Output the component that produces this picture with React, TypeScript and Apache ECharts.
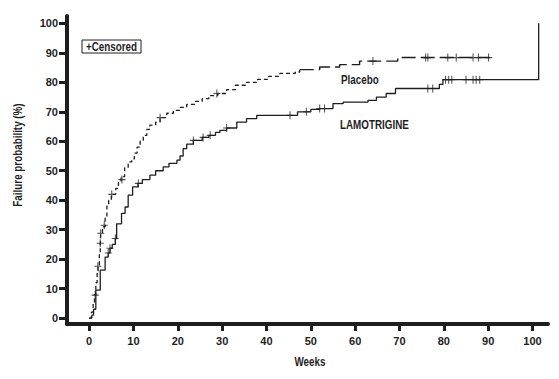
import React, { useEffect, useRef } from "react";
import * as echarts from "echarts";

const tickValues = [0, 10, 20, 30, 40, 50, 60, 70, 80, 90, 100];

const placeboWeeks = [0, 0.5, 0.9, 1.2, 1.5, 1.8, 2.0, 2.3, 2.5, 2.6, 3.0, 3.6, 4.0, 4.4, 5.0, 6.0, 6.6, 7.2, 8.0, 8.8, 9.6, 10.2, 10.8, 11.5, 12.2, 13.0, 13.7, 15.0, 16.0, 17.5, 19.0, 20.5, 22.0, 24.0, 25.5, 27.0, 29.0, 31.0, 33.0, 35.5, 38.0, 40.5, 43.0, 46.5, 47.5, 52.0, 56.5, 61.0, 69.6, 90.3];
const placeboProb = [0, 2, 5, 8, 12, 16, 18, 22, 25, 29, 31, 34, 38, 40, 42, 44, 46, 48, 51, 53, 54, 56, 58, 60, 62, 64, 65.5, 66.5, 68, 69.5, 70.5, 71.5, 72.5, 73.5, 74.5, 75.5, 76.2, 77.5, 79, 80, 81, 82, 83, 83.5, 84.3, 85.2, 86, 87.2, 88.4, 88.4];
const placeboDashChangeWeek = 47.5;

const placeboCensorWeeks = [1.35, 1.96, 2.5, 2.6, 3.4, 5.1, 7.4, 16, 28.8, 64, 75.9, 76.4, 80.9, 82.8, 86.6, 87.8, 90.1];
const placeboCensorProb = [7.8, 17.6, 25.4, 28.8, 31.5, 42, 47, 68, 76.2, 87.2, 88.4, 88.4, 88.4, 88.4, 88.4, 88.4, 88.4];

const lamoWeeks = [0, 0.6, 1.0, 1.5, 2.5, 3.6, 4.3, 4.7, 5.2, 5.9, 6.2, 7.3, 8.1, 8.8, 9.8, 11.0, 12.0, 13.7, 15.0, 16.7, 18.0, 19.8, 20.5, 21.2, 22.0, 23.5, 25.5, 27.0, 28.5, 29.5, 31.0, 33.3, 35.5, 37.8, 47.0, 50.0, 52.0, 55.0, 57.3, 62.9, 64.8, 67.0, 69.1, 79.0, 79.8, 101.4];
const lamoProb = [0, 1, 3, 9.5, 16.3, 20.7, 22.1, 23.7, 25, 27, 32, 35.5, 37.7, 41.7, 44.5, 45.7, 47, 48.5, 50, 51.3, 52.5, 53.6, 55, 57.5, 59, 60.3, 61.3, 62, 63, 63.7, 64.5, 66.5, 67.7, 68.8, 70, 70.8, 71.1, 72.8, 73.3, 73.9, 75, 76.2, 77.9, 79.3, 80.9, 100];

const lamoCensorWeeks = [4.3, 4.7, 5.9, 11.1, 23.5, 25.7, 27.3, 31, 45.3, 49, 52, 53.1, 76.4, 77.5, 80.4, 81.1, 81.8, 85, 86.6, 87.3, 88.1];
const lamoCensorProb = [22.1, 23.7, 27, 45.7, 60.3, 61.3, 62, 64.5, 68.8, 70, 71.1, 71.1, 77.9, 77.9, 80.9, 80.9, 80.9, 80.9, 80.9, 80.9, 80.9];

const FONT = '"Liberation Sans", Arial, sans-serif';
const INK = "#1e1e1e";
const PLUS = "path://M3,0h1v3h3v1h-3v3h-1v-3h-3v-1h3z";
const NARROW = 0.82;

const zip = (xs: number[], ys: number[]) => xs.map((x, i) => [x, ys[i]]);

const label = (text: string, x: number, y: number, align: string, rotation = 0) => ({
  type: "text",
  x,
  y,
  rotation,
  scaleX: NARROW,
  style: { text, font: `bold 12px ${FONT}`, fill: INK, align, verticalAlign: "middle" },
});

export default function App() {
  const ref = useRef<HTMLDivElement>(null);
  useEffect(() => {
    if (!ref.current) return;
    const chart = echarts.init(ref.current, null, { renderer: "svg" });
    const placebo = zip(placeboWeeks, placeboProb);
    const placeboA = placebo.filter((p) => p[0] <= placeboDashChangeWeek);
    const placeboB = placebo.filter((p) => p[0] >= placeboDashChangeWeek);
    chart.setOption({
      animation: false,
      grid: { left: 67, right: 11, top: 16, bottom: 55 },
      xAxis: {
        type: "value",
        min: -5,
        max: 103.5,
        splitLine: { show: false },
        axisLine: { show: true, onZero: false, lineStyle: { color: INK, width: 4 } },
        axisTick: { show: true, customValues: tickValues, length: 7, lineStyle: { color: INK, width: 3 } },
        axisLabel: { customValues: tickValues, margin: 11, color: INK, fontFamily: FONT, fontWeight: "bold", fontSize: 11 },
      },
      yAxis: {
        type: "value",
        min: -2,
        max: 102.5,
        splitLine: { show: false },
        axisLine: { show: true, onZero: false, lineStyle: { color: INK, width: 4 } },
        axisTick: { show: true, customValues: tickValues, length: 8, lineStyle: { color: INK, width: 3 } },
        axisLabel: { customValues: tickValues, margin: 9, color: INK, fontFamily: FONT, fontWeight: "bold", fontSize: 11 },
      },
      series: [
        {
          type: "line",
          step: "end",
          data: placeboA,
          showSymbol: false,
          lineStyle: { color: INK, width: 1.3, type: [4, 3] },
        },
        {
          type: "line",
          step: "end",
          data: placeboB,
          showSymbol: false,
          lineStyle: { color: INK, width: 1.4, type: [14, 5] },
        },
        {
          type: "line",
          step: "end",
          data: zip(lamoWeeks, lamoProb),
          showSymbol: false,
          lineStyle: { color: INK, width: 1.3 },
        },
        {
          type: "scatter",
          data: zip(placeboCensorWeeks, placeboCensorProb),
          symbol: PLUS,
          symbolSize: [7, 8],
          itemStyle: { color: INK },
        },
        {
          type: "scatter",
          data: zip(lamoCensorWeeks, lamoCensorProb),
          symbol: PLUS,
          symbolSize: [7, 8],
          itemStyle: { color: INK },
        },
      ],
      graphic: [
        {
          type: "rect",
          shape: { x: 82, y: 40, width: 59, height: 13 },
          style: { fill: "#fff", stroke: INK, lineWidth: 1 },
        },
        label("+Censored", 111.5, 46.5, "center"),
        label("Placebo", 341, 80, "left"),
        label("LAMOTRIGINE", 340, 125, "left"),
        label("Failure probability (%)", 18, 155, "center", Math.PI / 2),
        label("Weeks", 310, 362, "center"),
      ],
    });
    return () => chart.dispose();
  }, []);
  return <div ref={ref} style={{ width: 559, height: 379, position: "absolute", left: 0, top: 0 }} />;
}
